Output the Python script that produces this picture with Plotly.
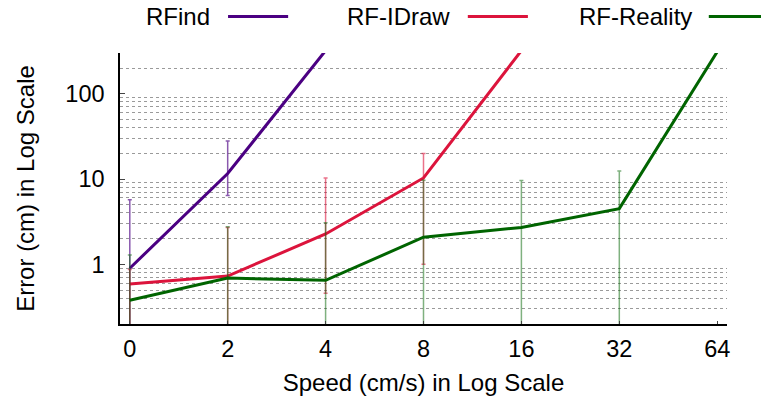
import plotly.graph_objects as go

# ---------------- data ----------------
speeds = ["0", "2", "4", "8", "16", "32", "64"]

rfind_mean = [0.9, 11.6, 320, None, None, None, None]
rfind_high = [5.7, 28.0, None, None, None, None, None]
rfind_low = [0.0, 6.4, None, None, None, None, None]

rfidraw_mean = [0.59, 0.73, 2.27, 10.3, 320, None, None]
rfidraw_high = [0.87, 2.7, 10.3, 19.9, None, None, None]
rfidraw_low = [0.0, 0.0, 0.46, 1.0, None, None, None]

rfreal_mean = [0.38, 0.69, 0.65, 2.08, 2.71, 4.5, 310]
rfreal_high = [1.29, 2.76, 3.07, 9.7, 9.6, 12.4, None]
rfreal_low = [0.0, 0.0, 0.0, 0.0, 0.0, 0.0, None]

series_names = ["RFind", "RF-IDraw", "RF-Reality"]
line_colors = ["#4B0082", "#DC143C", "#006400"]
err_colors = ["rgba(75,0,130,0.65)", "rgba(220,20,60,0.6)", "rgba(0,100,0,0.5)"]

y_major = [1, 10, 100]
y_minor = [0.2, 0.3, 0.4, 0.5, 0.6, 0.7, 0.8, 0.9,
           2, 3, 4, 5, 6, 7, 8, 9,
           20, 30, 40, 50, 60, 70, 80, 90,
           200, 300]

FONT = "Liberation Sans, Arial, Helvetica, sans-serif"


def err_arrays(mean, high, low):
    plus, minus = [], []
    for m, h, l in zip(mean, high, low):
        if m is None or h is None:
            plus.append(0)
            minus.append(0)
        else:
            plus.append(h - m)
            minus.append(m - l)
    return plus, minus


fig = go.Figure()
all_series = [(rfind_mean, rfind_high, rfind_low),
              (rfidraw_mean, rfidraw_high, rfidraw_low),
              (rfreal_mean, rfreal_high, rfreal_low)]

for (mean, high, low), name, lc, ec in zip(all_series, series_names, line_colors, err_colors):
    plus, minus = err_arrays(mean, high, low)
    fig.add_trace(go.Scatter(
        x=speeds, y=mean, mode="lines", name=name,
        line=dict(color=lc, width=3),
        error_y=dict(type="data", symmetric=False, array=plus, arrayminus=minus,
                     color=ec, thickness=1.5, width=2),
        showlegend=False,
    ))

# gnuplot-style legend: text followed by line sample
legend_items = [  # (text right edge, sample start, sample end) in paper x
    ("RFind", 0.151, 0.178, 0.277),
    ("RF-IDraw", 0.547, 0.573, 0.672),
    ("RF-Reality", 0.945, 0.970, 1.07),
]
LEG_Y = 1.135
for (txt, xr, x0, x1), lc in zip(legend_items, line_colors):
    fig.add_annotation(x=xr, y=LEG_Y, xref="paper", yref="paper", text=txt,
                       showarrow=False, xanchor="right", yanchor="middle",
                       font=dict(family=FONT, size=24, color="#000"))
    fig.add_shape(type="line", xref="paper", yref="paper", x0=x0, x1=x1,
                  y0=LEG_Y, y1=LEG_Y, line=dict(color=lc, width=3))

fig.update_layout(
    width=761, height=404,
    margin=dict(l=120, r=34, t=53, b=77),
    paper_bgcolor="white", plot_bgcolor="white",
    font=dict(family=FONT, size=24, color="#000"),
    showlegend=False,
    xaxis=dict(
        type="category", range=[-0.1, 6.1],
        showline=True, linecolor="#000", linewidth=1.5,
        ticks="inside", ticklen=3, tickcolor="#444",
        showgrid=False, zeroline=False,
        tickfont=dict(family=FONT, size=23.5),
        ticklabelstandoff=3,
        title=dict(text="Speed (cm/s) in Log Scale", font=dict(family=FONT, size=24), standoff=13),
    ),
    yaxis=dict(
        type="log", range=[-0.69897, 2.4771],
        tickmode="array", tickvals=y_major, ticktext=["1", "10", "100"],
        showline=True, linecolor="#000", linewidth=1.5,
        ticks="inside", ticklen=5, tickcolor="#444",
        showgrid=False, zeroline=False,
        tickfont=dict(family=FONT, size=23.5),
        ticklabelstandoff=9,
        title=dict(text="Error (cm) in Log Scale", font=dict(family=FONT, size=24), standoff=24),
        minor=dict(tickmode="array", tickvals=y_minor, showgrid=True,
                   gridcolor="#9a9a9a", griddash="dot", gridwidth=1, ticks=""),
    ),
)

fig.write_html("out.html")
